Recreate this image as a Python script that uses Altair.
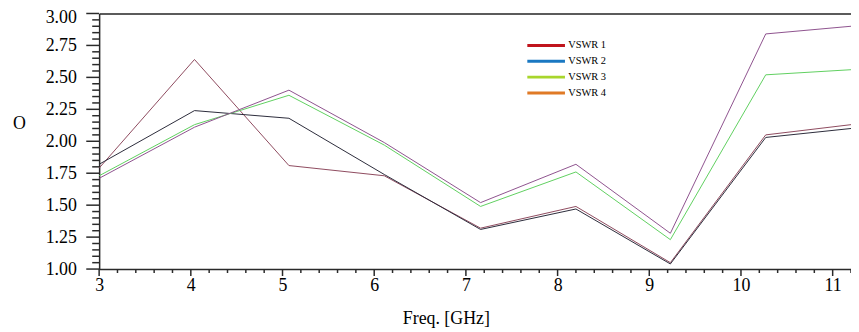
import altair as alt
import pandas as pd

# ---- data ----
freq = [3.0, 4.04, 5.07, 6.11, 7.16, 8.20, 9.23, 10.27, 11.2]
series = ["VSWR 1", "VSWR 2", "VSWR 3", "VSWR 4"]
vswr1 = [1.79, 2.64, 1.81, 1.73, 1.32, 1.49, 1.05, 2.05, 2.13]
vswr2 = [1.82, 2.24, 2.18, 1.74, 1.31, 1.47, 1.04, 2.03, 2.10]
vswr3 = [1.73, 2.13, 2.36, 1.97, 1.49, 1.76, 1.23, 2.52, 2.56]
vswr4 = [1.71, 2.11, 2.40, 1.99, 1.52, 1.82, 1.28, 2.84, 2.90]
line_colors = ["#8e4a5e", "#2b2b3a", "#5fcf5f", "#8e528e"]
legend_colors = ["#c0141c", "#1a78c2", "#a8d62c", "#e07a26"]

# axis tick values
x_major = [3, 4, 5, 6, 7, 8, 9, 10, 11]
x_minor = [round(3 + 0.2 * i, 2) for i in range(0, 42) if i % 5 != 0]
y_major = [1.0, 1.25, 1.5, 1.75, 2.0, 2.25, 2.5, 2.75, 3.0]
y_minor = [round(1 + 0.05 * i, 2) for i in range(0, 41) if i % 5 != 0]

rows = []
for name, vals in zip(series, [vswr1, vswr2, vswr3, vswr4]):
    for f, v in zip(freq, vals):
        rows.append({"freq": f, "value": v, "series": name})
df = pd.DataFrame(rows)

FONT = "Liberation Serif"
FS = 18
AX = "#2a2a2a"
xscale = alt.Scale(domain=[3, 11.2], nice=False, zero=False)
yscale = alt.Scale(domain=[1, 3], nice=False, zero=False)

x_axis = alt.Axis(
    orient="bottom", values=x_major, format="d", ticks=False,
    labelPadding=8, labelFont=FONT, labelFontSize=FS, labelColor="black",
    labelOverlap=False, labelFlush=False,
    grid=False, domainColor=AX, domainWidth=1.5,
    title="Freq. [GHz]", titleFont=FONT, titleFontSize=FS, titleFontWeight="normal",
    titleColor="black", titleX=350, titleY=55, titleAlign="center",
    titleBaseline="alphabetic")
y_axis = alt.Axis(
    orient="left", values=y_major, format=".2f", ticks=False,
    labelBaseline={"condition": {"test": "datum.value > 2.99", "value": "line-top"},
                   "value": "middle"},
    labelLineHeight=8,
    labelPadding=23, labelFont=FONT, labelFontSize=FS, labelColor="black",
    labelOverlap=False, labelFlush=False,
    grid=False, domainColor=AX, domainWidth=1.5,
    title="O", titleFont=FONT, titleFontSize=FS, titleFontWeight="normal",
    titleColor="black", titleAngle=0, titleX=-81, titleY=111,
    titleAlign="center", titleBaseline="middle")

legend = alt.Legend(
    title=None, orient="none", legendX=446, legendY=27,
    symbolType="M-9.5,0H9.5", symbolSize=16, symbolStrokeWidth=3,
    labelOffset=17, labelFont=FONT, labelFontSize=10.5,
    labelColor="black", rowPadding=3, padding=0)
color_scale = alt.Scale(domain=series, range=legend_colors)

base = alt.Chart(df)
layers = []
for i, (name, lc) in enumerate(zip(series, line_colors)):
    layers.append(
        base.transform_filter(alt.datum.series == name)
        .mark_line(stroke=lc, strokeWidth=1, clip=True)
        .encode(
            x=alt.X("freq:Q", scale=xscale, axis=x_axis if i == 0 else None),
            y=alt.Y("value:Q", scale=yscale, axis=y_axis if i == 0 else None),
            color=alt.Color("series:N", scale=color_scale, legend=legend),
        )
    )

top = base.mark_line(opacity=0).encode(
    x=alt.X("freq:Q", scale=xscale, axis=alt.Axis(
        orient="top", ticks=False, labels=False, domain=True, grid=False,
        domainColor=AX, domainWidth=1.5, title=None)),
    y=alt.Y("value:Q", scale=yscale, axis=None),
    detail="series:N",
)

# axis tick marks (outward), placed on the axis lines through the scales
def xticks(vals, length):
    d = pd.DataFrame({"t": vals, "base": [1.0] * len(vals)})
    return alt.Chart(d).mark_tick(
        orient="vertical", size=length, thickness=1.5, yOffset=length / 2,
        color=AX, opacity=1, clip=False
    ).encode(
        x=alt.X("t:Q", scale=xscale, axis=None),
        y=alt.Y("base:Q", scale=yscale, axis=None),
    )

def yticks(vals, length):
    d = pd.DataFrame({"t": vals, "base": [3.0] * len(vals)})
    return alt.Chart(d).mark_tick(
        orient="horizontal", size=length, thickness=1.5, xOffset=-length / 2,
        color=AX, opacity=1, clip=False
    ).encode(
        x=alt.X("base:Q", scale=xscale, axis=None),
        y=alt.Y("t:Q", scale=yscale, axis=None),
    )

tick_layers = [xticks(x_major, 7), xticks(x_minor, 4), yticks(y_major, 13), yticks(y_minor, 7)]

chart = alt.layer(*layers, top, *tick_layers).resolve_axis(
    x="independent", y="independent"
).properties(
    width=759, height=258,
    autosize=alt.AutoSizeParams(type="none"),
    padding={"left": 92, "top": 4, "right": 0, "bottom": 62},
).configure_view(stroke=None).configure(background="white")

chart.save("out.html", embed_options={"renderer": "svg", "actions": False})
